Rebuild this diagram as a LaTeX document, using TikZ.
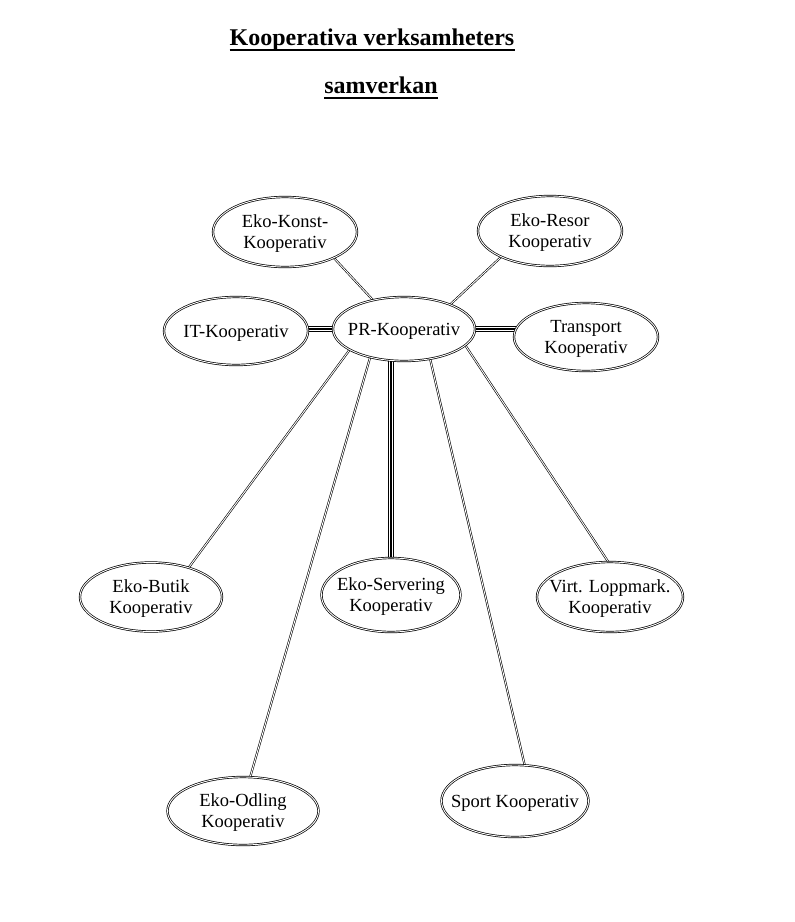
\documentclass[tikz,border=0pt]{standalone}
\usepackage{fontspec}
\setmainfont{Liberation Serif}
\usetikzlibrary{shapes.geometric,backgrounds}

\begin{document}
\begin{tikzpicture}[x=1pt,y=-1pt,
  every node/.style={font=\fontsize{18.5}{21}\selectfont},
  coop/.style={ellipse,draw,double,double distance=0.9pt,line width=0.7pt,fill=white,inner sep=0pt},
  link/.style={draw,double,double distance=0.9pt,line width=0.6pt},
  triple/.style={line width=1.2pt,preaction={draw,line width=6pt},preaction={draw=white,line width=3.6pt}},
  every label/.style={align=center,inner sep=0pt,yshift=-2pt}]
\useasboundingbox (0,0) rectangle (795,922);
% title
\node[font=\fontsize{24}{28}\selectfont\bfseries,anchor=base,inner sep=0pt] (title1) at (372,45) {Kooperativa verksamheters};
\node[font=\fontsize{24}{28}\selectfont\bfseries,anchor=base,inner sep=0pt] (title2) at (381,93) {samverkan};
\draw[line width=2pt] ([yshift=-5pt]title1.base west) -- ([yshift=-5pt]title1.base east);
\draw[line width=2pt] ([yshift=-5pt]title2.base west) -- ([yshift=-5pt]title2.base east);
% cooperatives
\node[coop,minimum width=144pt,minimum height=70pt,label=center:{Eko-Konst-\\Kooperativ}] (konst) at (285,232) {};
\node[coop,minimum width=144pt,minimum height=70pt,label=center:{Eko-Resor\\Kooperativ}] (resor) at (550,231) {};
\node[coop,minimum width=144pt,minimum height=68pt,label=center:{IT-Kooperativ}] (it) at (236,331) {};
\node[coop,minimum width=142pt,minimum height=64pt,label=center:{PR-Kooperativ}] (pr) at (404,329) {};
\node[coop,minimum width=144pt,minimum height=68pt,label=center:{Transport\\Kooperativ}] (transport) at (586,337) {};
\node[coop,minimum width=142pt,minimum height=69pt,label=center:{Eko-Butik\\Kooperativ}] (butik) at (151,597) {};
\node[coop,minimum width=139pt,minimum height=74pt,label=center:{Eko-Servering\\Kooperativ}] (serv) at (391,595) {};
\node[coop,minimum width=146pt,minimum height=70pt,label=center:{Virt. Loppmark.\\Kooperativ}] (virt) at (610,597) {};
\node[coop,minimum width=151pt,minimum height=68pt,label=center:{Eko-Odling\\Kooperativ}] (odling) at (243,811) {};
\node[coop,minimum width=147pt,minimum height=72pt,label=center:{Sport Kooperativ}] (sport) at (515,801) {};
% links
\begin{scope}[on background layer]
\draw[triple] (it |- pr) -- (pr);
\draw[triple] (pr) -- (pr -| transport);
\draw[triple] (serv |- pr) -- (serv);
\draw[link] (konst.332) -- (pr.137);
\draw[link] (resor.208) -- (pr.28);
\draw[link] (butik.38) -- (pr.201);
\draw[link] (odling.78) -- (pr.220);
\draw[link] (sport.75) -- (pr.311);
\draw[link] (virt.93) -- (pr.345);
\end{scope}
\end{tikzpicture}
\end{document}
